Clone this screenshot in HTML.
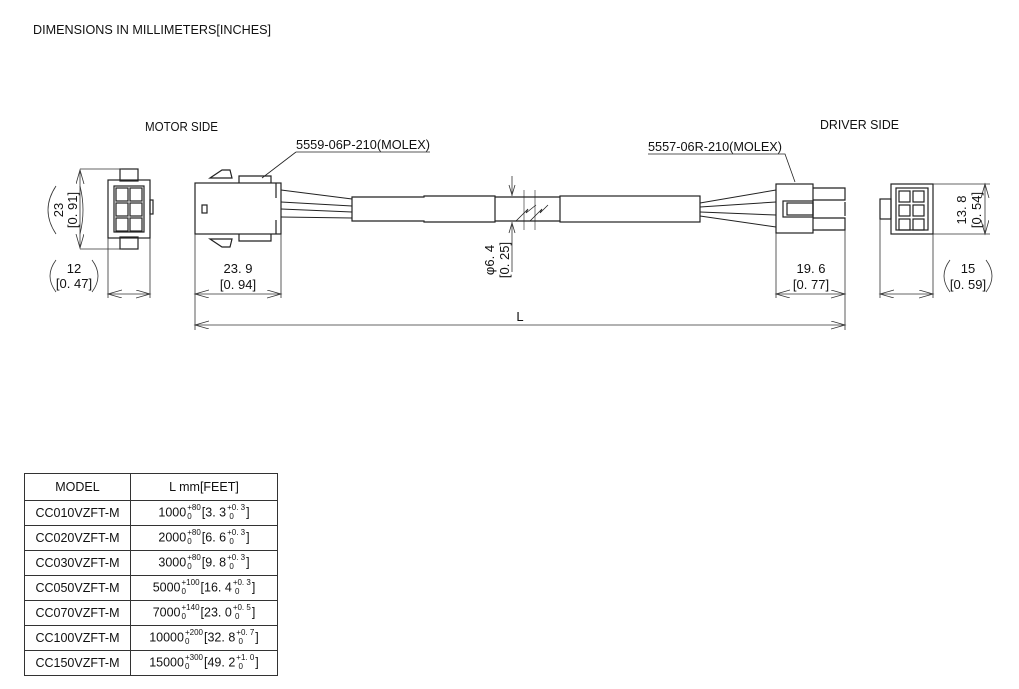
<!DOCTYPE html>
<html><head><meta charset="utf-8"><style>
html,body{margin:0;padding:0;background:#fff;}
svg{display:block;position:absolute;left:0;top:0;}
text{font-family:"Liberation Sans",sans-serif;fill:#111;}
table{position:absolute;left:24px;top:473px;border-collapse:collapse;font-family:"Liberation Sans",sans-serif;font-size:12.5px;color:#111;}
td{border:1px solid #333;height:24px;padding:0;text-align:center;white-space:nowrap;}
td.m{width:105px;}
td.l{width:146px;}
.s{display:inline-block;vertical-align:middle;font-size:8px;line-height:9px;text-align:left;margin:0 1px;position:relative;top:-1px;}
.s span{display:block;}
</style></head><body>
<svg width="1019" height="689" viewBox="0 0 1019 689" xmlns="http://www.w3.org/2000/svg">
<defs>
<marker id="a" markerWidth="16" markerHeight="10" refX="14" refY="4" orient="auto-start-reverse" markerUnits="userSpaceOnUse">
<path d="M0,0 L14,4 L0,8" fill="none" stroke="#333" stroke-width="0.8"/></marker>
</defs>
<g font-size="13">
<text x="33" y="34" textLength="238" lengthAdjust="spacingAndGlyphs">DIMENSIONS IN MILLIMETERS[INCHES]</text>
<text x="145" y="131" textLength="73" lengthAdjust="spacingAndGlyphs">MOTOR SIDE</text>
<text x="820" y="129" textLength="79" lengthAdjust="spacingAndGlyphs">DRIVER SIDE</text>
<text x="296" y="149" textLength="134" lengthAdjust="spacingAndGlyphs">5559-06P-210(MOLEX)</text>
<text x="648" y="151" textLength="134" lengthAdjust="spacingAndGlyphs">5557-06R-210(MOLEX)</text>
</g>
<g stroke="#222" stroke-width="1.2" fill="none">
<path d="M296,152 H430 M296,152 L262,178" stroke-width="0.8"/>
<path d="M648,154 H785 L795,182" stroke-width="0.8"/>
<rect x="120" y="169" width="18" height="12"/>
<rect x="120" y="237" width="18" height="12"/>
<rect x="108" y="180" width="42" height="58"/>
<rect x="114" y="186" width="30" height="46"/>
<rect x="116" y="188" width="12" height="13"/><rect x="130" y="188" width="12" height="13"/>
<rect x="116" y="203" width="12" height="13"/><rect x="130" y="203" width="12" height="13"/>
<rect x="116" y="218" width="12" height="13"/><rect x="130" y="218" width="12" height="13"/>
<rect x="150" y="200" width="3" height="14"/>
<rect x="195" y="183" width="86" height="51"/>
<path d="M239,183 V176 H271 V183 M239,234 V241 H271 V234"/>
<path d="M210,178 L222,170 H230 L232,178 Z M210,239 L222,247 H230 L232,239 Z"/>
<rect x="202" y="205" width="5" height="8"/>
<path d="M276,183 V198 M276,220 V234"/>
<path d="M281,190 L352,199 M281,202 L352,206 M281,209 L352,212 M281,217 L352,218" stroke-width="1"/>
<path d="M352,197 H424 V196 H495 V222 H424 V221 H352 Z"/>
<path d="M495,197 H560 M495,221 H560"/>
<rect x="560" y="196" width="140" height="26"/>
<path d="M516,221 L528,209 L526,213 L536,205 M530,221 L542,209 L540,213 L548,205" stroke-width="0.8"/>
<path d="M524,190 V230 M535,190 V230" stroke-width="0.6"/>
<path d="M700,203 L776,190 M700,207 L776,202 M700,212 L776,215 M700,216 L776,227" stroke-width="1"/>
<rect x="776" y="184" width="37" height="49"/>
<rect x="783" y="201" width="30" height="16"/>
<rect x="787" y="203" width="26" height="12"/>
<path d="M813,188 H845 V200 H813 M813,218 H845 V230 H813 M845,202 V216"/>
<rect x="891" y="184" width="42" height="50"/>
<rect x="896" y="188" width="32" height="42"/>
<rect x="880" y="199" width="11" height="20"/>
<rect x="899" y="191" width="11" height="11"/><rect x="913" y="191" width="11" height="11"/>
<rect x="899" y="205" width="11" height="11"/><rect x="913" y="205" width="11" height="11"/>
<rect x="899" y="219" width="11" height="11"/><rect x="913" y="219" width="11" height="11"/>
</g>
<g stroke="#333" stroke-width="0.8" fill="none">
<path d="M80,169 H122 M80,249 H122"/>
<path d="M80,170 V248" marker-start="url(#a)" marker-end="url(#a)"/>
<path d="M108,238 V298 M150,238 V298"/>
<path d="M108,294 H150" marker-start="url(#a)" marker-end="url(#a)"/>
<path d="M195,234 V330 M281,234 V298"/>
<path d="M195,294 H281" marker-start="url(#a)" marker-end="url(#a)"/>
<path d="M195,325 H845" marker-start="url(#a)" marker-end="url(#a)"/>
<path d="M776,233 V298 M845,230 V330"/>
<path d="M776,294 H845" marker-start="url(#a)" marker-end="url(#a)"/>
<path d="M880,219 V298 M933,234 V298"/>
<path d="M880,294 H933" marker-start="url(#a)" marker-end="url(#a)"/>
<path d="M933,184 H990 M933,234 H990"/>
<path d="M985,184 V234" marker-start="url(#a)" marker-end="url(#a)"/>
<path d="M512,176 V196 M512,222 V272"/>
<path d="M512,195 l-3,-10 M512,195 l3,-10 M512,223 l-3,10 M512,223 l3,10"/>
<path d="M56,186 Q40,210 56,234 M80,186 Q86,210 80,234"/>
<path d="M56,260 Q44,276 56,292 M92,260 Q104,276 92,292"/>
<path d="M950,260 Q938,276 950,292 M986,260 Q998,276 986,292"/>
</g>
<g font-size="13">
<text transform="translate(63,210) rotate(-90)" text-anchor="middle">23</text>
<text transform="translate(77,210) rotate(-90)" text-anchor="middle">[0. 91]</text>
<text x="74" y="273" text-anchor="middle">12</text>
<text x="74" y="288" text-anchor="middle">[0. 47]</text>
<text x="238" y="273" text-anchor="middle">23. 9</text>
<text x="238" y="289" text-anchor="middle">[0. 94]</text>
<text x="811" y="273" text-anchor="middle">19. 6</text>
<text x="811" y="289" text-anchor="middle">[0. 77]</text>
<text x="968" y="273" text-anchor="middle">15</text>
<text x="968" y="289" text-anchor="middle">[0. 59]</text>
<text transform="translate(966,210) rotate(-90)" text-anchor="middle">13. 8</text>
<text transform="translate(981,210) rotate(-90)" text-anchor="middle">[0. 54]</text>
<text transform="translate(494,260) rotate(-90)" text-anchor="middle">φ6. 4</text>
<text transform="translate(509,260) rotate(-90)" text-anchor="middle">[0. 25]</text>
<text x="520" y="321" text-anchor="middle">L</text>
</g>
</svg>
<table>
<tr><td class="m" style="height:26px">MODEL</td><td class="l">L mm[FEET]</td></tr>
<tr><td class="m">CC010VZFT-M</td><td class="l">1000<span class="s"><span>+80</span><span>0</span></span>[3. 3<span class="s"><span>+0. 3</span><span>&nbsp;0</span></span>]</td></tr>
<tr><td class="m">CC020VZFT-M</td><td class="l">2000<span class="s"><span>+80</span><span>0</span></span>[6. 6<span class="s"><span>+0. 3</span><span>&nbsp;0</span></span>]</td></tr>
<tr><td class="m">CC030VZFT-M</td><td class="l">3000<span class="s"><span>+80</span><span>0</span></span>[9. 8<span class="s"><span>+0. 3</span><span>&nbsp;0</span></span>]</td></tr>
<tr><td class="m">CC050VZFT-M</td><td class="l">5000<span class="s"><span>+100</span><span>0</span></span>[16. 4<span class="s"><span>+0. 3</span><span>&nbsp;0</span></span>]</td></tr>
<tr><td class="m">CC070VZFT-M</td><td class="l">7000<span class="s"><span>+140</span><span>0</span></span>[23. 0<span class="s"><span>+0. 5</span><span>&nbsp;0</span></span>]</td></tr>
<tr><td class="m">CC100VZFT-M</td><td class="l">10000<span class="s"><span>+200</span><span>0</span></span>[32. 8<span class="s"><span>+0. 7</span><span>&nbsp;0</span></span>]</td></tr>
<tr><td class="m">CC150VZFT-M</td><td class="l">15000<span class="s"><span>+300</span><span>0</span></span>[49. 2<span class="s"><span>+1. 0</span><span>&nbsp;0</span></span>]</td></tr>
</table>
</body></html>
